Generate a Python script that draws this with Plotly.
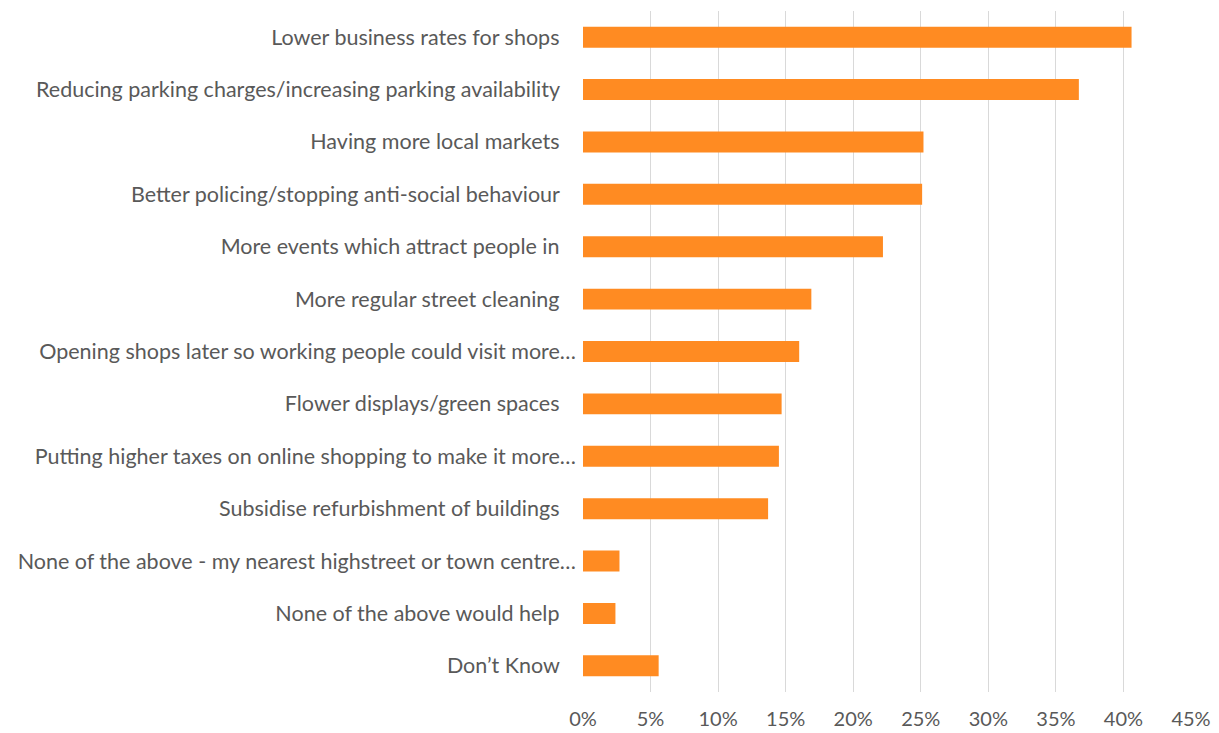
import plotly.graph_objects as go

# Survey answers, top to bottom, with share of respondents
categories = [
    "Lower business rates for shops",
    "Reducing parking charges/increasing parking availability",
    "Having more local markets",
    "Better policing/stopping anti-social behaviour",
    "More events which attract people in",
    "More regular street cleaning",
    "Opening shops later so working people could visit more…",
    "Flower displays/green spaces",
    "Putting higher taxes on online shopping to make it more…",
    "Subsidise refurbishment of buildings",
    "None of the above - my nearest highstreet or town centre…",
    "None of the above would help",
    "Don’t Know",
]
values = [0.406, 0.367, 0.252, 0.251, 0.222, 0.169, 0.160, 0.147, 0.145, 0.137, 0.027, 0.024, 0.056]

x_ticks = [0, 0.05, 0.10, 0.15, 0.20, 0.25, 0.30, 0.35, 0.40, 0.45]


def pad(label):
    # full labels sit a little further from the axis than the truncated ones
    return label if label.endswith("…") else label + "\u00a0\u00a0\u00a0"


fig = go.Figure(
    go.Bar(
        x=values,
        y=[pad(c) for c in categories],
        orientation="h",
        marker=dict(color="#FF8B22", line=dict(width=0)),
        width=0.4,
    )
)

fig.update_layout(
    width=1219,
    height=733,
    margin=dict(l=583, r=28, t=11, b=41),
    paper_bgcolor="white",
    plot_bgcolor="white",
    showlegend=False,
    font=dict(family="Lato", size=21, color="#595959"),
)

fig.update_xaxes(
    range=[0, 0.45],
    tickvals=x_ticks,
    tickformat=".0%",
    showgrid=True,
    gridcolor="#D9D9D9",
    gridwidth=1,
    zeroline=False,
    showline=False,
    ticks="",
    automargin=False,
    ticklabelstandoff=13,
    tickfont=dict(family="Lato", size=20, color="#595959"),
)

fig.update_yaxes(
    autorange="reversed",
    showgrid=False,
    zeroline=False,
    showline=False,
    ticks="",
    automargin=False,
    ticklabelstandoff=6,
    tickfont=dict(family="Lato", size=21.5, color="#595959"),
)

fig.write_html("out.html")
